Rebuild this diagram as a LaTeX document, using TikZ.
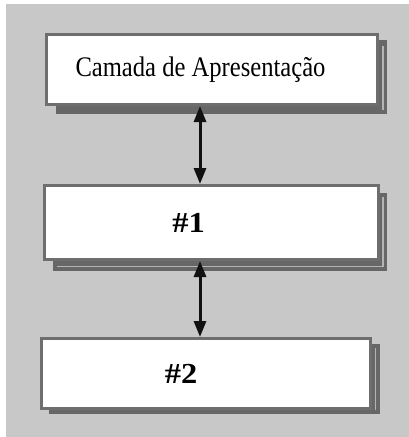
\documentclass[tikz,border=0pt]{standalone}
\usepackage{fontspec}
\usepackage{graphicx}
\setmainfont{Liberation Serif}
\usetikzlibrary{arrows.meta}
\definecolor{bggray}{HTML}{C8C8C8}
\definecolor{edgegray}{HTML}{6E6E6E}
\definecolor{shadowgray}{HTML}{676767}
\definecolor{linegray}{HTML}{B4B4B4}
\definecolor{arrowblack}{HTML}{111111}
\begin{document}
\begin{tikzpicture}[x=1pt,y=-1pt,
  layerbox/.style={draw=edgegray, line width=3pt, fill=white, inner sep=0pt},
  shadowbox/.style={fill=shadowgray},
  innerline/.style={draw=linegray, line width=1.3pt},
  link/.style={draw=arrowblack, line width=3pt,
    {Triangle[length=16pt,width=12pt]}-{Triangle[length=16pt,width=12pt]}},
  titlefont/.style={font=\fontsize{24.6}{28}\selectfont},
  numfont/.style={font=\fontsize{29}{32}\selectfont\bfseries}
]
\useasboundingbox (0,0) rectangle (409,437);
\fill[bggray] (6,4) rectangle (409,437);
% shadows
\fill[shadowbox] (56,40) rectangle (387,114);
\draw[innerline] (383,46) -- (383,110);
\fill[shadowbox] (53,193) rectangle (387,271);
\draw[innerline] (57,266.5) -- (383,266.5) -- (383,197);
\fill[shadowbox] (49,344) rectangle (380,414);
\draw[innerline] (375.5,348) -- (375.5,410);
% boxes
\node[layerbox, titlefont, minimum width=331pt, minimum height=70pt] (b1) at (212,69.5) {\raisebox{3pt}{\scalebox{1}[1.15]{Camada de Apresentação}}\hspace*{23pt}};
\node[layerbox, numfont, minimum width=334pt, minimum height=74pt] (b2) at (211.5,222.5) {\scalebox{1.12}[1]{\#1}\hspace*{46pt}};
\node[layerbox, numfont, minimum width=329pt, minimum height=70pt] (b3) at (206,373.5) {\scalebox{1.12}[1]{\#2}\hspace*{50pt}};
% connectors
\coordinate (ax) at (200,0);
\draw[link] (b1.south -| ax) -- (b2.north -| ax);
\draw[link] (b2.south -| ax) -- (b3.north -| ax);
\end{tikzpicture}
\end{document}
